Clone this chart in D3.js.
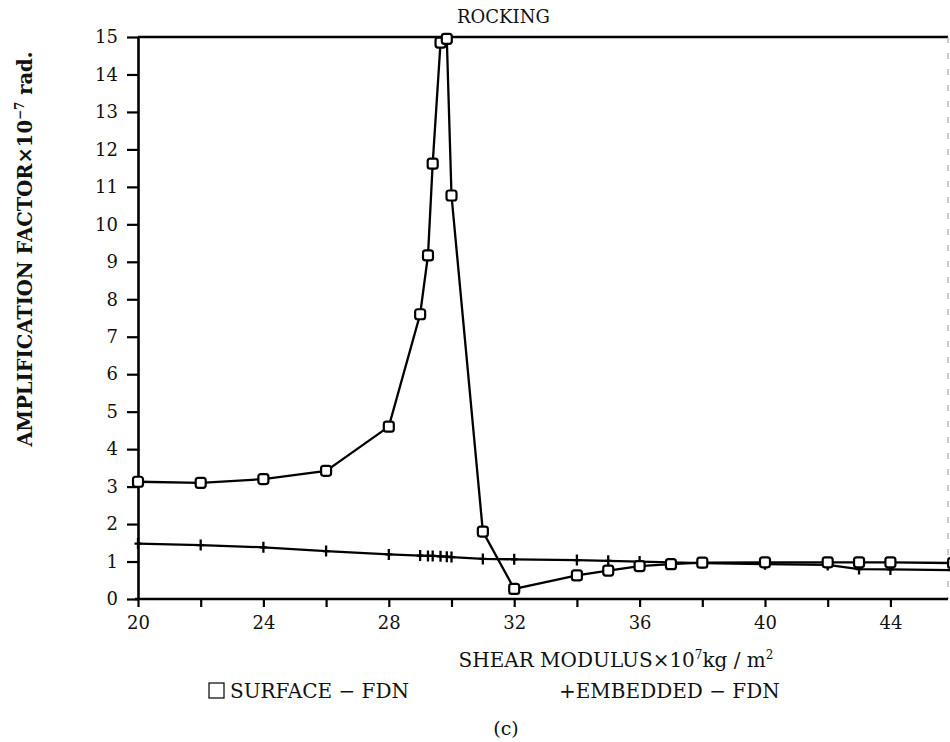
<!DOCTYPE html>
<html>
<head>
<meta charset="utf-8">
<script src="https://cdn.jsdelivr.net/npm/d3@7"></script>
<style>
  body { margin: 0; background: #fff; }
  text { font-family: "DejaVu Serif", "Liberation Serif", serif; fill: #111; }
</style>
</head>
<body>
<div id="chart"></div>
<script>
// surface foundation (squares)
var surfX = [20, 22, 24, 26, 28, 29, 29.25, 29.4, 29.65, 29.85, 30, 31, 32, 34, 35, 36, 37, 38, 40, 42, 43, 44, 46];
var surfY = [3.13, 3.1, 3.2, 3.42, 4.6, 7.6, 9.17, 11.62, 14.85, 14.95, 10.77, 1.8, 0.27, 0.63, 0.76, 0.88, 0.93, 0.97, 0.98, 0.98, 0.98, 0.98, 0.96];
// embedded foundation (plus)
var embX = [20, 22, 24, 26, 28, 29, 29.25, 29.4, 29.65, 29.85, 30, 31, 32, 34, 35, 36, 38, 40, 42, 43, 44, 46];
var embY = [1.48, 1.44, 1.38, 1.28, 1.19, 1.16, 1.15, 1.15, 1.14, 1.13, 1.12, 1.07, 1.06, 1.04, 1.02, 1.0, 0.96, 0.93, 0.91, 0.8, 0.79, 0.77];

var yTicks = d3.range(0, 16);
var xTicks = d3.range(20, 47, 2);
var xLabels = [20, 24, 28, 32, 36, 40, 44];

var svgWidth = 950;
var svgHeight = 742;
var margin = { top: 37, right: 2, bottom: 143, left: 138 };
var chartWidth = svgWidth - margin.left - margin.right;
var chartHeight = svgHeight - margin.top - margin.bottom;

var svg = d3.select("#chart")
    .append("svg")
    .attr("width", svgWidth)
    .attr("height", svgHeight);

svg.append("rect").attr("width", svgWidth).attr("height", svgHeight).attr("fill", "#fff");

var chartGroup = svg.append("g")
    .attr("transform", `translate(${margin.left},${margin.top})`);

var xScale = d3.scaleLinear()
    .domain([20, 20 + chartWidth / 31.35])
    .range([0, chartWidth]);

var yScale = d3.scaleLinear()
    .domain([0, 15])
    .range([chartHeight, 0]);

// frame: top line and faint right edge
chartGroup.append("line")
    .attr("x1", 0).attr("x2", chartWidth)
    .attr("y1", 0).attr("y2", 0)
    .attr("stroke", "#000").attr("stroke-width", 2.5);
chartGroup.append("line")
    .attr("x1", chartWidth).attr("x2", chartWidth)
    .attr("y1", 0).attr("y2", chartHeight)
    .attr("stroke", "#999").attr("stroke-width", 1)
    .attr("stroke-dasharray", "6,10");

var xAxis = chartGroup.append("g")
    .attr("transform", `translate(0, ${chartHeight})`)
    .call(d3.axisBottom(xScale)
        .tickValues(xTicks)
        .tickSizeInner(8)
        .tickSizeOuter(0)
        .tickPadding(9)
        .tickFormat(d => xLabels.indexOf(d) >= 0 ? d : ""));

var yAxis = chartGroup.append("g")
    .call(d3.axisLeft(yScale)
        .tickValues(yTicks)
        .tickSizeInner(11)
        .tickSizeOuter(0)
        .tickPadding(9));

[xAxis, yAxis].forEach(function(ax) {
  ax.select(".domain").attr("stroke", "#000").attr("stroke-width", 2.6);
  ax.selectAll(".tick line").attr("stroke", "#000").attr("stroke-width", 2.2);
  ax.selectAll(".tick text").style("font-size", "18px").attr("fill", "#111");
});
xAxis.select(".domain").attr("d", `M-3,0H${chartWidth}`);

var line = d3.line()
    .x(d => xScale(d[0]))
    .y(d => yScale(d[1]));

var surfData = surfX.map((d, i) => [d, surfY[i]]);
var embData = embX.map((d, i) => [d, embY[i]]);

chartGroup.append("path")
    .datum(embData)
    .attr("d", line)
    .attr("fill", "none")
    .attr("stroke", "#000")
    .attr("stroke-width", 2.3);

chartGroup.selectAll("path.plus")
    .data(embData)
    .enter()
    .append("path")
    .classed("plus", true)
    .attr("transform", d => `translate(${xScale(d[0])},${yScale(d[1])})`)
    .attr("d", "M-3.5,0H3.5M0,-5.5V5.5")
    .attr("stroke", "#000")
    .attr("stroke-width", 2.3);

chartGroup.append("path")
    .datum(surfData)
    .attr("d", line)
    .attr("fill", "none")
    .attr("stroke", "#000")
    .attr("stroke-width", 2.3);

chartGroup.selectAll("rect.sq")
    .data(surfData)
    .enter()
    .append("rect")
    .classed("sq", true)
    .attr("x", d => xScale(d[0]) - 5)
    .attr("y", d => yScale(d[1]) - 5)
    .attr("width", 10)
    .attr("height", 10)
    .attr("rx", 2.5)
    .attr("fill", "#fff")
    .attr("stroke", "#000")
    .attr("stroke-width", 2.2);

// titles
svg.append("text")
    .attr("x", 457).attr("y", 23)
    .style("font-size", "18px")
    .text("ROCKING");

var yTitle = svg.append("text")
    .attr("transform", "translate(32, 249) rotate(-90)")
    .attr("text-anchor", "middle")
    .style("font-size", "19.5px")
    .style("font-weight", "bold");
yTitle.append("tspan").text("AMPLIFICATION FACTOR×10");
yTitle.append("tspan").attr("dy", -8).style("font-size", "12px").text("−7");
yTitle.append("tspan").attr("dy", 8).text(" rad.");

var xTitle = svg.append("text")
    .attr("x", 616).attr("y", 667)
    .attr("text-anchor", "middle")
    .style("font-size", "20px");
xTitle.append("tspan").text("SHEAR MODULUS×10");
xTitle.append("tspan").attr("dy", -8).style("font-size", "12px").text("7");
xTitle.append("tspan").attr("dy", 8).text("kg / m");
xTitle.append("tspan").attr("dy", -8).style("font-size", "12px").text("2");

// legend
svg.append("rect")
    .attr("x", 209).attr("y", 683)
    .attr("width", 15).attr("height", 15)
    .attr("fill", "#fff").attr("stroke", "#000").attr("stroke-width", 1.2);
svg.append("text")
    .attr("x", 230).attr("y", 698)
    .style("font-size", "20px")
    .text("SURFACE − FDN");
svg.append("text")
    .attr("x", 559).attr("y", 698)
    .style("font-size", "20px")
    .text("+EMBEDDED − FDN");

svg.append("text")
    .attr("x", 506).attr("y", 735)
    .attr("text-anchor", "middle")
    .style("font-size", "19px")
    .text("(c)");
</script>
</body>
</html>
